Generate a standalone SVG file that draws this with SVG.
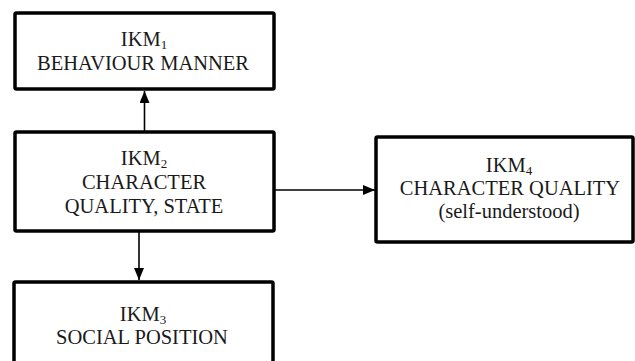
<svg xmlns="http://www.w3.org/2000/svg" width="635" height="361" viewBox="0 0 635 361">
<defs>
<marker id="ah" viewBox="0 0 12 10" refX="12" refY="5" markerWidth="12" markerHeight="10" markerUnits="userSpaceOnUse" orient="auto">
<path d="M0,0 L12,5 L0,10 Z" fill="#000"/>
</marker>
<style>
.box{fill:#fff;stroke:#000;stroke-width:3.5}
.c{stroke:#000;stroke-width:1.6;fill:none}
</style>
</defs>
<rect width="635" height="361" fill="#fff"/>
<g id="connectors">
<line class="c" x1="144.5" y1="131" x2="144.5" y2="91" marker-end="url(#ah)"/>
<line class="c" x1="139" y1="231" x2="139" y2="280" marker-end="url(#ah)"/>
<line class="c" x1="274" y1="190" x2="375" y2="190" marker-end="url(#ah)"/>
</g>
<g id="ikm1">
<rect class="box" x="15" y="13" width="259" height="76" rx="1.5"/>
<text font-family="Liberation Serif" font-size="20.5" fill="#1a1a1a" text-anchor="middle" x="144" y="46">IKM<tspan font-size="13" dy="3">1</tspan></text>
<text font-family="Liberation Serif" font-size="20.5" fill="#1a1a1a" text-anchor="middle" x="143" y="70">BEHAVIOUR MANNER</text>
</g>
<g id="ikm2">
<rect class="box" x="15" y="132" width="259" height="99" rx="1.5"/>
<text font-family="Liberation Serif" font-size="20.5" fill="#1a1a1a" text-anchor="middle" x="144" y="165">IKM<tspan font-size="13" dy="3">2</tspan></text>
<text font-family="Liberation Serif" font-size="20.5" fill="#1a1a1a" text-anchor="middle" x="144" y="189">CHARACTER</text>
<text font-family="Liberation Serif" font-size="20.5" fill="#1a1a1a" text-anchor="middle" x="144" y="213">QUALITY, STATE</text>
</g>
<g id="ikm3">
<rect class="box" x="14" y="282" width="259" height="90" rx="1.5"/>
<text font-family="Liberation Serif" font-size="20.5" fill="#1a1a1a" text-anchor="middle" x="143" y="321">IKM<tspan font-size="13" dy="3">3</tspan></text>
<text font-family="Liberation Serif" font-size="20.5" fill="#1a1a1a" text-anchor="middle" x="142" y="344">SOCIAL POSITION</text>
</g>
<g id="ikm4">
<rect class="box" x="376" y="137" width="257" height="105" rx="1.5"/>
<text font-family="Liberation Serif" font-size="20.5" fill="#1a1a1a" text-anchor="middle" x="509" y="172">IKM<tspan font-size="13" dy="3">4</tspan></text>
<text font-family="Liberation Serif" font-size="20.5" fill="#1a1a1a" text-anchor="middle" x="510" y="195">CHARACTER QUALITY</text>
<text font-family="Liberation Serif" font-size="20.5" fill="#1a1a1a" text-anchor="middle" x="509" y="218">(self-understood)</text>
</g>
</svg>
